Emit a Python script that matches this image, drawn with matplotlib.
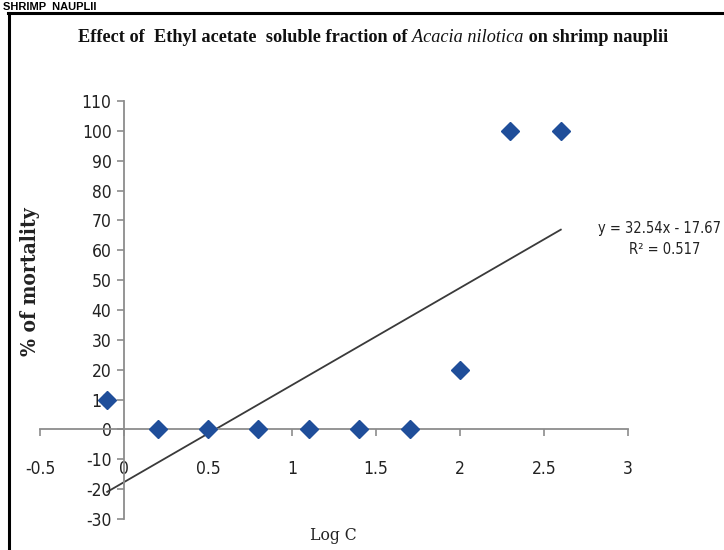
import numpy as np
import matplotlib
matplotlib.use("Agg")
import matplotlib.pyplot as plt
from matplotlib.lines import Line2D
from matplotlib import font_manager as fm
from matplotlib.font_manager import FontProperties

# ---- data ----
log_c = [-0.1, 0.2, 0.5, 0.8, 1.1, 1.4, 1.7, 2.0, 2.3, 2.6]
mortality = [10, 0, 0, 0, 0, 0, 0, 20, 100, 100]
x_ticks = [-0.5, 0, 0.5, 1, 1.5, 2, 2.5, 3]
x_tick_labels = ["-0.5", "0", "0.5", "1", "1.5", "2", "2.5", "3"]
y_ticks = list(range(-30, 111, 10))
y_tick_labels = [str(v) for v in y_ticks]
title_pre = "Effect of  Ethyl acetate  soluble fraction of "
title_species = "Acacia nilotica"
title_post = " on shrimp nauplii"
eq_text = "y = 32.54x - 17.67"
r2_text = "R² = 0.517"
header_text = "SHRIMP  NAUPLII"

# look for condensed fonts
cands = []
for f in fm.fontManager.ttflist:
    low = (f.fname + " " + f.name).lower()
    if ("condensed" in low or "narrow" in low) and "light" not in low and "thin" not in low:
        cands.append(f)


def pick(serif=False, bold=False, italic=False):
    for f in cands:
        low = (f.fname + " " + f.name).lower()
        is_serif = "serif" in low and "sans" not in low
        if is_serif != serif:
            continue
        is_bold = ("bold" in low) or (f.weight in ("bold", 700))
        if is_bold != bold:
            continue
        is_it = ("italic" in low or "oblique" in low)
        if is_it != italic:
            continue
        if "semi" in low or "extra" in low or "black" in low or "medium" in low:
            continue
        return f
    return None


sans_c = pick()
sans_fp = FontProperties(fname=sans_c.fname) if sans_c else FontProperties(family="Liberation Sans")
ser_b = pick(serif=True, bold=True)
ser_r = pick(serif=True)

W, H = 724, 550
fig = plt.figure(figsize=(W / 100, H / 100), dpi=100)
fig.patch.set_facecolor("white")
plt.rcParams["axes.unicode_minus"] = False

x0, x1 = 40, 628
ytop, ybot = 101, 519
ax = fig.add_axes([x0 / W, (H - ybot) / H, (x1 - x0) / W, (ybot - ytop) / H])
ax.set_xlim(-0.5, 3)
ax.set_ylim(-30, 110)
ax.patch.set_alpha(0)

for s in ["top", "right"]:
    ax.spines[s].set_visible(False)
ax.spines["left"].set_position(("data", 0))
ax.spines["bottom"].set_position(("data", 0))
for s in ["left", "bottom"]:
    ax.spines[s].set_color("#8c8c8c")
    ax.spines[s].set_linewidth(1.3)

tick_fs = 12.5 if sans_c else 11
ax.set_xticks(x_ticks)
ax.set_xticklabels(x_tick_labels)
ax.set_yticks(y_ticks)
ax.set_yticklabels(y_tick_labels)
ax.tick_params(axis="both", direction="out", color="#8c8c8c", width=1.2, length=5)
ax.tick_params(axis="x", pad=17)
ax.tick_params(axis="y", pad=4)
for lab in ax.get_xticklabels() + ax.get_yticklabels():
    lab.set_fontproperties(sans_fp)
    lab.set_fontsize(tick_fs)
    lab.set_color("#222222")

# trend line from least squares fit
coef = np.polyfit(log_c, mortality, 1)
xl = np.array([min(log_c), max(log_c)])
ax.plot(xl, np.polyval(coef, xl), color="#3a3a3a", lw=1.3, zorder=2)

# points
ax.plot(log_c, mortality, linestyle="none", marker="D", markersize=9,
        color="#1f4e9a", zorder=3, clip_on=False)

# title: pieces placed side by side, fitted to the reference width
title_y = 1 - 38 / H
fp_b = FontProperties(family="Liberation Serif", weight="bold")
fp_i = FontProperties(family="Liberation Serif", style="italic")
parts = [(title_pre, fp_b), (title_species, fp_i), (title_post, fp_b)]
fig.canvas.draw()
r = fig.canvas.get_renderer()
texts = []
for s, fp in parts:
    t = fig.text(0, title_y, s, ha="left", va="center", fontproperties=fp, fontsize=14,
                 color="#111111")
    texts.append(t)
widths = [t.get_window_extent(renderer=r).width for t in texts]
scale = 590.0 / sum(widths)
for t in texts:
    t.set_fontsize(14 * scale)
widths = [t.get_window_extent(renderer=r).width for t in texts]
start = 373 - sum(widths) / 2
for t, w in zip(texts, widths):
    t.set_x(start / W)
    start += w

# axis labels
ylab_fp = FontProperties(fname=ser_b.fname) if ser_b else FontProperties(family="Liberation Serif", weight="bold")
fig.text(30 / W, 1 - 282 / H, "% of mortality", rotation=90, ha="center", va="center",
         fontproperties=ylab_fp, fontsize=15, color="#222222")
xlab_fp = FontProperties(fname=ser_r.fname) if ser_r else FontProperties(family="Liberation Serif")
fig.text(333 / W, 1 - 535 / H, "Log C", ha="center", va="center",
         fontproperties=xlab_fp, fontsize=12.5, color="#222222")

# equation
eq_fs = 10.5 if sans_c else 9
fig.text(721 / W, 1 - 229 / H, eq_text, ha="right", va="center",
         fontproperties=sans_fp, fontsize=eq_fs, color="#222222")
fig.text(665 / W, 1 - 250 / H, r2_text, ha="center", va="center",
         fontproperties=sans_fp, fontsize=eq_fs, color="#222222")

# header strip above the frame
fig.text(3 / W, 1 - 10 / H, header_text, ha="left", va="baseline",
         fontsize=8, fontweight="bold", family="Liberation Sans", color="#000000")

# frame
fig.add_artist(Line2D([8.5 / W, 8.5 / W], [0, 1 - 13 / H], transform=fig.transFigure,
                      color="black", lw=2.2))
fig.add_artist(Line2D([7.5 / W, 1], [1 - 13 / H, 1 - 13 / H], transform=fig.transFigure,
                      color="black", lw=2.2))

fig.savefig("out.png", dpi=100)
